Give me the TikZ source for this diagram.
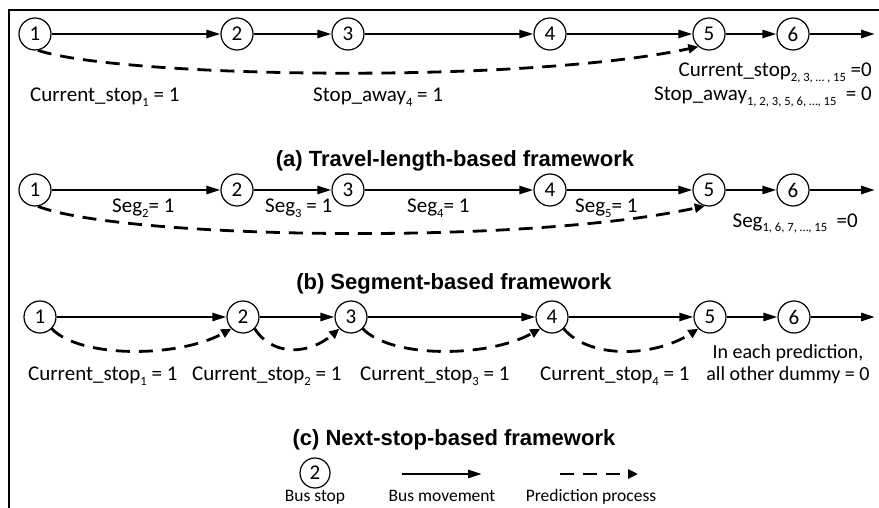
\documentclass[tikz,border=0pt]{standalone}
\usepackage{fontspec}
\setmainfont{Carlito}
\newfontfamily\titlefont{Liberation Sans}
\usetikzlibrary{arrows.meta}
\newcommand{\dn}[1]{\raisebox{-5pt}{\fontsize{12.6}{14}\selectfont #1}}
\begin{document}
\begin{tikzpicture}[x=1pt,y=-1pt,
  stop/.style={circle,draw,line width=1.2pt,minimum size=32pt,inner sep=0pt,font=\fontsize{21}{24}\selectfont},
  lbl/.style={font=\fontsize{21}{24}\selectfont,inner sep=0pt},
  note/.style={font=\fontsize{20}{24}\selectfont,inner sep=0pt,anchor=base},
  leg/.style={font=\fontsize{17.5}{20}\selectfont,inner sep=0pt,anchor=base},
  ttl/.style={font=\titlefont\bfseries\fontsize{22}{26}\selectfont,inner sep=0pt,anchor=base},
  move/.style={line width=2.6pt,-{Triangle[length=14pt,width=8pt]}},
  pred/.style={line width=2.8pt,dash pattern=on 14pt off 9pt,-{Triangle[length=10pt,width=9pt]}},
  frame/.style={line width=2.6pt}
]
\useasboundingbox (0,0) rectangle (879,508);
% frame (top and left edges)
\coordinate (ftr) at (879,10);
\coordinate (ftl) at (9,10);
\coordinate (fbl) at (9,508);
\draw[frame] (ftr) -- (ftl) -- (fbl);

% ---------- (a) ----------
\node[stop] (a1) at (35,34) {1};
\node[stop] (a2) at (237,34) {2};
\node[stop] (a3) at (348,34) {3};
\node[stop] (a4) at (550,34) {4};
\node[stop] (a5) at (709,34) {5};
\node[stop] (a6) at (793,34) {6};
\coordinate (ae) at (875,34);
\draw[move] (a1) -- (a2);
\draw[move] (a2) -- (a3);
\draw[move] (a3) -- (a4);
\draw[move] (a4) -- (a5);
\draw[move] (a5) -- (a6);
\draw[move] (a6) -- (ae);
\draw[pred] (a1.-80) .. controls +(82,27) and +(-179,38) .. (a5.-130);
\node[lbl,anchor=base west] (la1) at (30,102) {Current\_stop\dn{1} = 1};
\node[lbl,anchor=base west] (la2) at (313,102) {Stop\_away\dn{4} = 1};
\node[lbl,anchor=base east] (la3) at (872,77) {Current\_stop\dn{2, 3, … , 15} =0};
\node[lbl,anchor=base east] (la4) at (872,101) {Stop\_away\dn{1, 2, 3, 5, 6, …, 15}\ \ = 0};
\node[ttl] (ta) at (455,167) {(a) Travel-length-based framework};

% ---------- (b) ----------
\node[stop] (b1) at (35,190) {1};
\node[stop] (b2) at (237,190) {2};
\node[stop] (b3) at (348,190) {3};
\node[stop] (b4) at (550,190) {4};
\node[stop] (b5) at (709,190) {5};
\node[stop] (b6) at (793,190) {6};
\coordinate (be) at (875,190);
\draw[move] (b1) -- (b2);
\draw[move] (b2) -- (b3);
\draw[move] (b3) -- (b4);
\draw[move] (b4) -- (b5);
\draw[move] (b5) -- (b6);
\draw[move] (b6) -- (be);
\draw[pred] (b1.-80) .. controls +(82,32) and +(-185,40) .. (b5.-105);
\node[lbl,anchor=base west] (lb1) at (112,213) {Seg\dn{2}= 1};
\node[lbl,anchor=base west] (lb2) at (265,213) {Seg\dn{3} = 1};
\node[lbl,anchor=base west] (lb3) at (407,213) {Seg\dn{4}= 1};
\node[lbl,anchor=base west] (lb4) at (575,213) {Seg\dn{5}= 1};
\node[lbl,anchor=base east] (lb5) at (858,227) {Seg\dn{1, 6, 7, …, 15}\ \ =0};
\node[ttl] (tb) at (454,289) {(b) Segment-based framework};

% ---------- (c) ----------
\node[stop] (c1) at (40,317) {1};
\node[stop] (c2) at (243,317) {2};
\node[stop] (c3) at (351,317) {3};
\node[stop] (c4) at (552,317) {4};
\node[stop] (c5) at (710,317) {5};
\node[stop] (c6) at (794,317) {6};
\coordinate (ce) at (875,317);
\draw[move] (c1) -- (c2);
\draw[move] (c2) -- (c3);
\draw[move] (c3) -- (c4);
\draw[move] (c4) -- (c5);
\draw[move] (c5) -- (c6);
\draw[move] (c6) -- (ce);
\draw[pred] (c1.-45) .. controls +(29,30) and +(-52,29) .. (c2.-135);
\draw[pred] (c2.-45) .. controls +(18,28) and +(-30,26) .. (c3.-135);
\draw[pred] (c3.-45) .. controls +(29,30) and +(-52,29) .. (c4.-135);
\draw[pred] (c4.-45) .. controls +(25,30) and +(-45,29) .. (c5.-135);
\node[lbl,anchor=base west] (lc1) at (28,380) {Current\_stop\dn{1} = 1};
\node[lbl,anchor=base west] (lc2) at (192,380) {Current\_stop\dn{2} = 1};
\node[lbl,anchor=base west] (lc3) at (360,380) {Current\_stop\dn{3} = 1};
\node[lbl,anchor=base west] (lc4) at (540,380) {Current\_stop\dn{4} = 1};
\node[note] (lc5) at (788,358) {In each prediction,};
\node[note] (lc6) at (788,380) {all other dummy = 0};
\node[ttl] (tc) at (454,445) {(c) Next-stop-based framework};

% ---------- legend ----------
\node[stop,minimum size=30pt] (lg) at (315,473) {2};
\node[leg] (lgt) at (315,501) {Bus stop};
\coordinate (m1) at (402,474);
\coordinate (m2) at (482,474);
\draw[move] (m1) -- (m2);
\node[leg] (lmt) at (442,501) {Bus movement};
\coordinate (p1) at (560,474);
\coordinate (p2) at (638,474);
\draw[pred] (p1) -- (p2);
\node[leg] (lpt) at (591,501) {Prediction process};
\end{tikzpicture}
\end{document}
